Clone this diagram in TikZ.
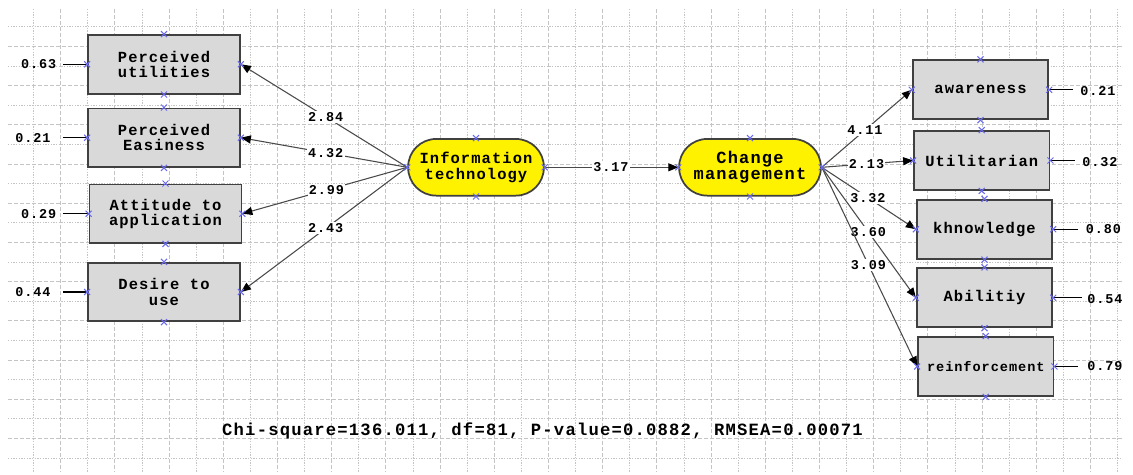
\documentclass[tikz,border=0pt]{standalone}
\usepackage{fontspec}
\newfontfamily\cour[LetterSpace=7]{Liberation Mono}
\usetikzlibrary{arrows.meta}
\definecolor{gridc}{HTML}{C4C4C4}
\definecolor{boxfill}{HTML}{D9D9D9}
\definecolor{edgec}{HTML}{404040}
\definecolor{linec}{HTML}{4A4A4A}
\definecolor{markc}{HTML}{6A6AF0}
\begin{document}
\begin{tikzpicture}[x=0.75pt,y=-0.75pt,
  gridA/.style={draw=gridc, line width=0.5pt, dash pattern=on 1pt off 1pt},
  gridB/.style={draw=gridc, line width=0.5pt, dash pattern=on 3pt off 1.5pt},
  obs/.style={draw=edgec, line width=1.3pt, fill=boxfill, minimum width=114pt, minimum height=44pt, inner sep=0pt, align=center, font=\cour\bfseries\fontsize{11.6pt}{11.5pt}\selectfont},
  obsr/.style={obs, minimum width=101.7pt, minimum height=44.25pt},
  lat/.style={draw=edgec, line width=1.3pt, fill=yellow, minimum height=42.5pt, rounded corners=21pt, inner sep=0pt, align=center, font=\cour\bfseries\fontsize{11.6pt}{11.5pt}\selectfont},
  coef/.style={fill=white, inner sep=1pt, font=\cour\bfseries\fontsize{10.1pt}{10.5pt}\selectfont},
  errlab/.style={inner sep=0pt, font=\cour\bfseries\fontsize{10.1pt}{10.5pt}\selectfont},
  pth/.style={draw=linec, line width=0.8pt, -{Triangle[length=7.5pt,width=6pt,color=black]}},
  errl/.style={draw=black, line width=0.8pt},
  xmark/.style={draw=markc, line width=0.75pt}]
\useasboundingbox (0,0) rectangle (1133,475);
\fill[white] (0,0) rectangle (1133,475);
% grid
\foreach \k in {0,2,...,40} \draw[gridA] ({33.5+27.1*\k},9) -- ({33.5+27.1*\k},472);
\foreach \k in {1,3,...,39} \draw[gridB] ({33.5+27.1*\k},9) -- ({33.5+27.1*\k},472);
\foreach \j in {0,2,...,22} \draw[gridA] (8,{26.7+19.6*\j}) -- (1122,{26.7+19.6*\j});
\foreach \j in {1,3,...,21} \draw[gridB] (8,{26.7+19.6*\j}) -- (1122,{26.7+19.6*\j});
% left observed
\node[obs] (pu) at (164,64.3) {Perceived\\utilities};
\node[obs] (pe) at (164,137.7) {Perceived\\Easiness};
\node[obs] (at) at (165.5,213.7) {Attitude to\\application};
\node[obs] (du) at (164,292) {Desire to\\use};
% latent
\node[lat, minimum width=101.8pt] (it) at (476,167.3) {Information\\technology};
\node[lat, minimum width=106.3pt, font=\cour\bfseries\fontsize{12.75pt}{12pt}\selectfont] (cm) at (750,167.3) {Change\\management};
% right observed
\node[obsr] (aw) at (980.5,89.8) {awareness};
\node[obsr] (ut) at (981.8,160.5) {Utilitarian};
\node[obsr] (kn) at (984.5,229.2) {khnowledge};
\node[obsr] (ab) at (984.5,297.8) {Abilitiy};
\node[obsr, font=\cour\bfseries\fontsize{10.2pt}{10.5pt}\selectfont] (re) at (985.8,366.5) {reinforcement};
% error labels left
\node[errlab] (e1) at (38.7,64.3) {0.63};
\node[errlab] (e2) at (33,137.7) {0.21};
\node[errlab] (e3) at (38.7,213.7) {0.29};
\node[errlab] (e4) at (33,292) {0.44};
\coordinate (s1) at (63.3,64.3);
\coordinate (s2) at (63.3,137.7);
\coordinate (s3) at (63.3,213.7);
\coordinate (s4) at (63.3,292);
\draw[errl] (s1) -- (pu.west);
\draw[errl] (s2) -- (pe.west);
\draw[errl] (s3) -- (at.west);
\draw[errl] (s4) -- (du.west);
% error labels right
\node[errlab] (r1) at (1098,91) {0.21};
\node[errlab] (r2) at (1100,162) {0.32};
\node[errlab] (r3) at (1103.5,229.2) {0.80};
\node[errlab] (r4) at (1105,299) {0.54};
\node[errlab] (r5) at (1105,366) {0.79};
\coordinate (t1) at (1073.3,89.8);
\coordinate (t2) at (1074.7,160.5);
\coordinate (t3) at (1078,229.2);
\coordinate (t4) at (1081.7,297.8);
\coordinate (t5) at (1078,366.5);
\draw[errl] (aw.east) -- (t1);
\draw[errl] (ut.east) -- (t2);
\draw[errl] (kn.east) -- (t3);
\draw[errl] (ab.east) -- (t4);
\draw[errl] (re.east) -- (t5);
% structural paths
\draw[pth] (it.west) -- node[coef, pos=0.49] {2.84} (pu.east);
\draw[pth] (it.west) -- node[coef, pos=0.49] {4.32} (pe.east);
\draw[pth] (it.west) -- node[coef, pos=0.49] {2.99} (at.east);
\draw[pth] (it.west) -- node[coef, pos=0.49] {2.43} (du.east);
\draw[pth] (it.east) -- node[coef, pos=0.495] {3.17} (cm.west);
\draw[pth] (cm.east) -- node[coef, pos=0.48] {4.11} (aw.west);
\draw[pth] (cm.east) -- node[coef, pos=0.49] {2.13} (ut.west);
\draw[pth] (cm.east) -- node[coef, pos=0.49] {3.32} (kn.west);
\draw[pth] (cm.east) -- node[coef, pos=0.495] {3.60} (ab.west);
\draw[pth] (cm.east) -- node[coef, pos=0.49] {3.09} (re.west);
% markers
\foreach \n in {pu,pe,at,du,it,cm,aw,ut,kn,ab,re}
  \foreach \a in {north,south,east,west}
    \draw[xmark] (\n.\a) +(-3,-3) -- +(3,3) +(-3,3) -- +(3,-3);
% fit statistics
\node[inner sep=0pt, font=\cour\bfseries\fontsize{12.9pt}{13.5pt}\selectfont] (fitstat) at (542.5,431) {Chi-square=136.011, df=81, P-value=0.0882, RMSEA=0.00071};
\end{tikzpicture}
\end{document}
